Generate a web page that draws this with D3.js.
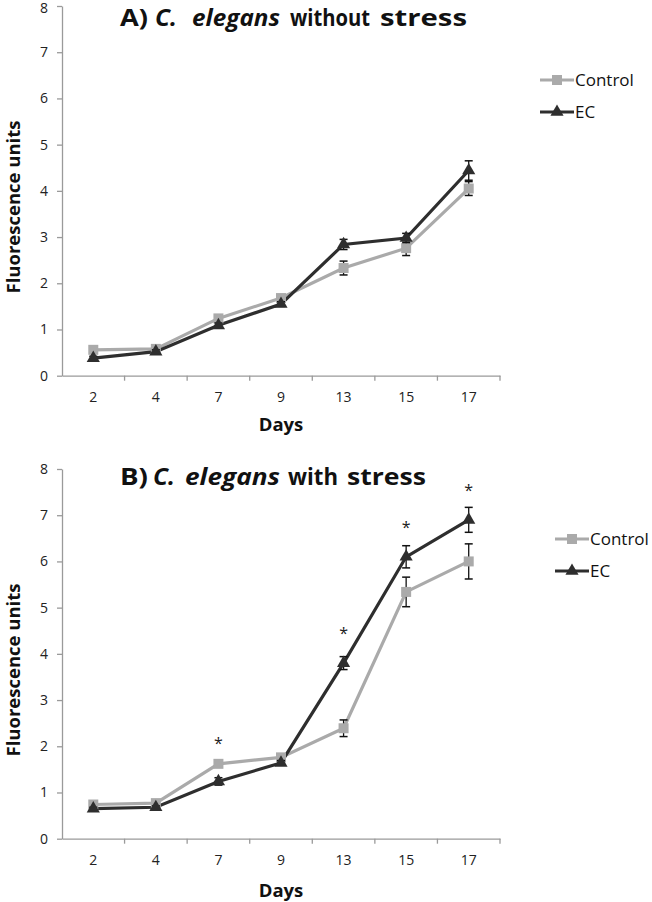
<!DOCTYPE html>
<html><head><meta charset="utf-8">
<script src="https://cdn.jsdelivr.net/npm/d3@7/dist/d3.min.js"></script>
<style>body{margin:0;background:#fff}svg{display:block}</style>
</head><body>
<svg id="c" width="652" height="902"></svg>
<script>
const days = ["2","4","7","9","13","15","17"];
const yTicks = [0,1,2,3,4,5,6,7,8];
const seriesNames = ["Control","EC"];
// Panel A: without stress
const aControl = [0.56, 0.58, 1.24, 1.68, 2.33, 2.76, 4.05];
const aControlErr = [0.04, 0.04, 0.05, 0.05, 0.15, 0.16, 0.15];
const aEC = [0.38, 0.52, 1.09, 1.55, 2.84, 2.98, 4.44];
const aECErr = [0.04, 0.04, 0.05, 0.05, 0.11, 0.1, 0.21];
// Panel B: with stress
const bControl = [0.74, 0.77, 1.62, 1.76, 2.39, 5.34, 6.0];
const bControlErr = [0.04, 0.04, 0.05, 0.05, 0.18, 0.32, 0.38];
const bEC = [0.65, 0.68, 1.24, 1.64, 3.8, 6.1, 6.9];
const bECErr = [0.03, 0.03, 0.08, 0.05, 0.14, 0.24, 0.27];
const bStarDays = ["7","13","15","17"];
const bStarValues = [2.07, 4.45, 6.74, 7.55];

const svg = d3.select("#c");
const FONT = "'Open Sans', 'DejaVu Sans', sans-serif";
const cCol = "#aaaaaa", eCol = "#2e2e2e", axCol = "#9a9a9a";

function panel(cfg){
  const g = svg.append("g");
  const x = d3.scaleBand().domain(days).range([62, 500]).padding(0);
  const y = d3.scaleLinear().domain([0, 8]).range([cfg.y0, cfg.y8]);
  // y axis
  const ya = g.append("g").attr("transform","translate(62,0)")
    .call(d3.axisLeft(y).tickValues(yTicks).tickSize(5).tickSizeOuter(0).tickPadding(9));
  ya.select(".domain").attr("stroke", axCol).attr("stroke-width",1.3);
  ya.selectAll(".tick line").attr("stroke", axCol).attr("stroke-width",1.3);
  ya.selectAll("text").attr("font-family",FONT).attr("font-size",14).attr("fill","#222");
  if (cfg.nudgeTop) ya.selectAll(".tick text").filter(d=>d===8).attr("dy","0.48em");
  // x axis
  const xa = g.append("g").attr("transform",`translate(0,${cfg.y0})`)
    .call(d3.axisBottom(x).tickSize(0).tickSizeOuter(0).tickPadding(16));
  xa.select(".domain").attr("stroke", axCol).attr("stroke-width",1.3);
  xa.selectAll("text").attr("font-family",FONT).attr("font-size",14).attr("fill","#222");
  g.append("g").selectAll("line").data(days).join("line")
    .attr("x1", d=>x(d)+x.bandwidth()).attr("x2", d=>x(d)+x.bandwidth())
    .attr("y1", cfg.y0).attr("y2", cfg.y0+5).attr("stroke", axCol).attr("stroke-width",1.3);
  const cx = d => x(d)+x.bandwidth()/2;
  // title, in segments
  cfg.title.forEach(seg=>{
    g.append("text").attr("x",seg.x).attr("y",cfg.titleY)
      .attr("font-family",FONT).attr("font-size",23.5).attr("font-weight","bold")
      .attr("font-style", seg.it ? "italic" : "normal").attr("fill","#111")
      .attr("textLength", seg.w).attr("lengthAdjust","spacingAndGlyphs").text(seg.t);
  });
  g.append("text").attr("transform",`translate(19.5,${cfg.ylabY}) rotate(-90)`)
    .attr("text-anchor","middle").attr("font-family",FONT).attr("font-size",18.5).attr("font-weight","bold")
    .attr("fill","#111").text("Fluorescence units");
  g.append("text").attr("x",281).attr("y",cfg.xlabY).attr("text-anchor","middle")
    .attr("font-family",FONT).attr("font-size",18.5).attr("font-weight","bold").attr("fill","#111").text("Days");
  // series
  const series = [
    {name:seriesNames[0], vals:cfg.ctrl, err:cfg.ctrlErr, col:cCol, sym:d3.symbolSquare, size:100},
    {name:seriesNames[1], vals:cfg.ec, err:cfg.ecErr, col:eCol, sym:d3.symbolTriangle, size:75}
  ];
  const line = d3.line().x((v,i)=>cx(days[i])).y(v=>y(v));
  series.forEach(s=>{
    g.append("path").attr("d", line(s.vals)).attr("fill","none").attr("stroke",s.col).attr("stroke-width",3.2);
  });
  series.forEach(s=>{
    const eb = g.append("g");
    s.vals.forEach((v,i)=>{
      const X = cx(days[i]);
      const e = s.err[i];
      eb.append("line").attr("x1",X).attr("x2",X).attr("y1",y(v+e)).attr("y2",y(v-e)).attr("stroke","#111").attr("stroke-width",1.3);
      [v+e, v-e].forEach(w=>eb.append("line").attr("x1",X-4).attr("x2",X+4).attr("y1",y(w)).attr("y2",y(w)).attr("stroke","#111").attr("stroke-width",1.5));
    });
    g.append("g").selectAll("path").data(s.vals).join("path")
      .attr("d", d3.symbol().type(s.sym).size(s.size))
      .attr("transform",(v,i)=>`translate(${cx(days[i])},${y(v)})`).attr("fill",s.col);
  });
  if (cfg.stars) {
    g.append("g").selectAll("text").data(cfg.stars).join("text")
      .attr("x", d=>cx(d[0])).attr("y", d=>y(d[1])+6).attr("text-anchor","middle")
      .attr("font-family",FONT).attr("font-size",16).attr("fill","#222").text("*");
  }
  // legend
  series.forEach((s,i)=>{
    const ly = cfg.legY + i*cfg.legGap;
    g.append("line").attr("x1",cfg.legX).attr("x2",cfg.legX+34).attr("y1",ly).attr("y2",ly).attr("stroke",s.col).attr("stroke-width",3.2);
    g.append("path").attr("d", d3.symbol().type(s.sym).size(s.size)()).attr("transform",`translate(${cfg.legX+17},${ly})`).attr("fill",s.col);
    g.append("text").attr("x",cfg.legX+35).attr("y",ly+6).attr("font-family",FONT).attr("font-size",17).attr("fill","#111").text(s.name);
  });
}

panel({y0:375.7, y8:6, titleY:26, ylabY:207, xlabY:431, nudgeTop:true,
  title:[{t:"A)",x:120,w:28},{t:"C.",x:155,w:22,it:true},{t:"elegans",x:192,w:88,it:true},{t:"without",x:290,w:80},{t:"stress",x:380,w:87}],
  ctrl:aControl, ctrlErr:aControlErr, ec:aEC, ecErr:aECErr, legX:540, legY:80, legGap:32});
panel({y0:838.7, y8:469, titleY:485, ylabY:670, xlabY:897,
  title:[{t:"B)",x:120,w:28},{t:"C.",x:153,w:22,it:true},{t:"elegans",x:185,w:95,it:true},{t:"with",x:288,w:50},{t:"stress",x:347,w:79}],
  ctrl:bControl, ctrlErr:bControlErr, ec:bEC, ecErr:bECErr, legX:555, legY:539, legGap:32,
  stars: bStarDays.map((d,i)=>[d,bStarValues[i]])});
</script>
</body></html>
